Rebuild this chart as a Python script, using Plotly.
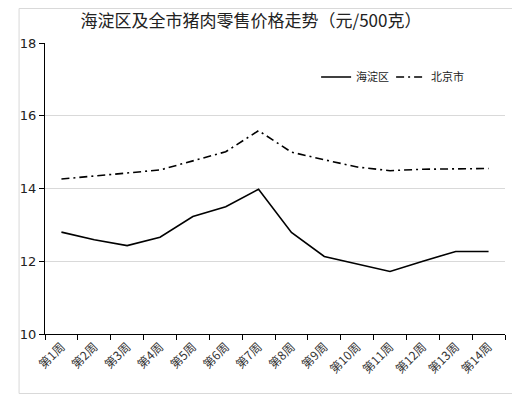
import plotly.graph_objects as go

weeks = ["第1周", "第2周", "第3周", "第4周", "第5周", "第6周", "第7周",
         "第8周", "第9周", "第10周", "第11周", "第12周", "第13周", "第14周"]
haidian = [12.80, 12.59, 12.43, 12.66, 13.23, 13.50, 13.98,
           12.79, 12.13, 11.92, 11.72, 12.00, 12.27, 12.27]
beijing = [14.26, 14.35, 14.44, 14.51, 14.76, 15.01, 15.59,
           15.00, 14.79, 14.59, 14.49, 14.53, 14.54, 14.55]

# the page body adds an 8px offset, so the figure is sized to fill the rest of the window
OFF = 8
W, H = 520 - OFF, 394 - OFF
ml, mr, mt, mb = 35 - OFF, 15, 43 - OFF, 60
pw, ph = W - ml - mr, H - mt - mb

fig = go.Figure()
fig.add_trace(go.Scatter(x=weeks, y=haidian, name="海淀区", mode="lines",
                         line=dict(color="black", width=1.6)))
fig.add_trace(go.Scatter(x=weeks, y=beijing, name="北京市", mode="lines",
                         line=dict(color="black", width=1.6, dash="8px,4px,2px,4px")))

# outer chart border (right and bottom edges visible)
fig.add_shape(type="rect", xref="paper", yref="paper",
              x0=(0.5 - ml) / pw, x1=(W - 1.5 - ml) / pw,
              y0=-(mb - 0.5) / ph, y1=1 + (mt - 0.5) / ph,
              line=dict(color="#d9d9d9", width=1), layer="below")

fig.update_layout(
    width=W, height=H,
    margin=dict(l=ml, r=mr, t=mt, b=mb),
    paper_bgcolor="white", plot_bgcolor="white",
    title=dict(text="海淀区及全市猪肉零售价格走势（元/500克）",
               x=(251 - OFF) / W, xanchor="center", y=1 - (21 - OFF) / H, yanchor="middle",
               font=dict(family="Noto Sans CJK SC", size=17, color="#222")),
    showlegend=True,
    legend=dict(orientation="h", x=(312 - 35) / pw, y=1 - (77 - 43) / ph,
                xanchor="left", yanchor="middle",
                bgcolor="rgba(0,0,0,0)", font=dict(family="Noto Sans CJK SC", size=11, color="#222"),
                itemwidth=30, entrywidth=30, tracegroupgap=0),
    xaxis=dict(type="category", range=[-0.5, 13.5], tickson="boundaries",
               showline=True, linecolor="black", linewidth=1.2,
               ticks="outside", ticklen=5, tickcolor="black",
               showgrid=False, tickangle=-45,
               tickfont=dict(family="Noto Sans CJK SC", size=12, color="#333")),
    yaxis=dict(range=[10, 18], dtick=2, showline=True, linecolor="black", linewidth=1.2,
               ticks="outside", ticklen=5, tickcolor="black",
               showgrid=True, gridcolor="#d9d9d9", gridwidth=1, zeroline=False,
               tickfont=dict(family="DejaVu Sans", size=13, color="#222")),
    font=dict(family="Noto Sans CJK SC"),
)

fig.write_html("out.html", config={"displayModeBar": False})
